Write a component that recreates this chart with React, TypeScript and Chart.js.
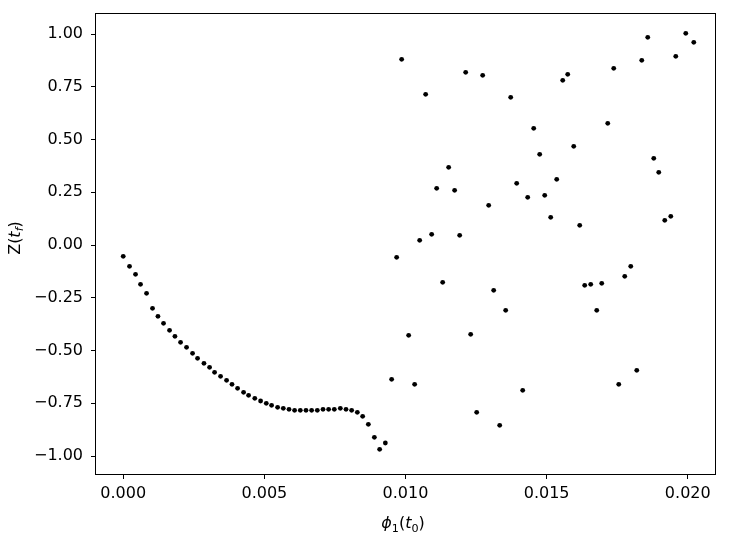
import React, { useEffect, useRef } from "react";
import { Chart, registerables } from "chart.js";

Chart.register(...registerables);

// phi_1(t_0) values
const phiValues = [
  0.0, 0.000223, 0.000436, 0.000613, 0.000826, 0.001038, 0.00123, 0.001428, 0.001641, 0.001832,
  0.002031, 0.002243, 0.002456, 0.002633, 0.00286, 0.003059, 0.003236, 0.003448, 0.003661, 0.003853,
  0.004051, 0.004264, 0.004441, 0.004661, 0.004866, 0.005068, 0.005256, 0.005469, 0.005671, 0.005873,
  0.006071, 0.006273, 0.006475, 0.006674, 0.006876, 0.007078, 0.007276, 0.007478, 0.007691, 0.007893,
  0.008092, 0.008294, 0.008482, 0.008684, 0.008897, 0.009084, 0.009286, 0.009509, 0.009686, 0.009864,
  0.010112, 0.010324, 0.010502, 0.010714, 0.010927, 0.011104, 0.011317, 0.011529, 0.01174, 0.011919,
  0.012132, 0.012309, 0.012522, 0.012734, 0.012947, 0.013124, 0.013337, 0.013549, 0.013727, 0.013939,
  0.014152, 0.014329, 0.014542, 0.014754, 0.014932, 0.015144, 0.015357, 0.01557, 0.015747, 0.01596,
  0.016172, 0.016349, 0.016562, 0.016775, 0.016952, 0.017165, 0.017377, 0.017555, 0.017767, 0.01798,
  0.018193, 0.01837, 0.018582, 0.018795, 0.018972, 0.019185, 0.019398, 0.019575, 0.019929, 0.020213,
];

// Z(t_f) values
const zValues = [
  -0.0533, -0.1007, -0.1386, -0.186, -0.2287, -0.2998, -0.3377, -0.3709, -0.4041, -0.4325,
  -0.4609, -0.4846, -0.5131, -0.5368, -0.5605, -0.5795, -0.6032, -0.6221, -0.6411, -0.66,
  -0.679, -0.698, -0.7122, -0.7264, -0.7392, -0.7501, -0.7596, -0.7691, -0.7738, -0.7785,
  -0.7833, -0.7833, -0.7833, -0.7833, -0.7833, -0.7785, -0.7785, -0.7785, -0.7738, -0.7785,
  -0.7833, -0.7928, -0.8117, -0.8496, -0.9113, -0.9682, -0.9383, -0.6363, -0.058, 0.8806,
  -0.4278, -0.66, 0.0226, 0.7146, 0.051, 0.2691, -0.1765, 0.3686, 0.2596, 0.0463,
  0.8189, -0.423, -0.7928, 0.8047, 0.1885, -0.2145, -0.8544, -0.3093, 0.7004, 0.2928,
  -0.6885, 0.2264, 0.5535, 0.4302, 0.2359, 0.1316, 0.3117, 0.781, 0.8094, 0.4681,
  0.0937, -0.1907, -0.186, -0.3093, -0.1813, 0.5772, 0.8379, -0.66, -0.1481, -0.1007,
  -0.5937, 0.8758, 0.9848, 0.4113, 0.3449, 0.1174, 0.1363, 0.8948, 1.0038, 0.9611,
];

const xTickValues = [0, 0.005, 0.01, 0.015, 0.02];
const yTickValues = [-1, -0.75, -0.5, -0.25, 0, 0.25, 0.5, 0.75, 1];

type Run = { text: string; italic?: boolean; sub?: boolean };
const xLabelRuns: Run[] = [
  { text: "\u03D5", italic: true },
  { text: "1", sub: true },
  { text: "(" },
  { text: "t", italic: true },
  { text: "0", sub: true },
  { text: ")" },
];
const yLabelRuns: Run[] = [
  { text: "Z" },
  { text: "(" },
  { text: "t", italic: true },
  { text: "f", italic: true, sub: true },
  { text: ")" },
];

const FONT = '"DejaVu Sans"';
const SIZE = 16;

function runFont(r: Run) {
  const size = r.sub ? SIZE * 0.7 : SIZE;
  return `${r.italic ? "italic " : ""}${size}px ${FONT}`;
}

function drawRuns(ctx: CanvasRenderingContext2D, runs: Run[], cx: number, baseline: number) {
  let total = 0;
  const widths = runs.map((r) => {
    ctx.font = runFont(r);
    const w = ctx.measureText(r.text).width;
    total += w;
    return w;
  });
  let x = cx - total / 2;
  ctx.textAlign = "left";
  ctx.textBaseline = "alphabetic";
  ctx.fillStyle = "#000";
  runs.forEach((r, i) => {
    ctx.font = runFont(r);
    ctx.fillText(r.text, x, baseline + (r.sub ? 3.5 : 0));
    x += widths[i];
  });
}

const framePlugin = {
  id: "mplFrame",
  afterDraw(chart: any) {
    const { ctx, chartArea: a } = chart;
    ctx.save();
    ctx.strokeStyle = "#000";
    ctx.lineWidth = 1;
    const l = Math.round(a.left) + 0.5;
    const t = Math.round(a.top) + 0.5;
    const r = Math.round(a.right) - 0.5;
    const b = Math.round(a.bottom) - 0.5;
    ctx.strokeRect(l, t, r - l, b - t);
    drawRuns(ctx, xLabelRuns, 403, 528);
    ctx.translate(19.5, 238);
    ctx.rotate(-Math.PI / 2);
    drawRuns(ctx, yLabelRuns, 0, 0);
    ctx.restore();
  },
};

function zeroPadding(scale: any) {
  scale.paddingTop = 0;
  scale.paddingBottom = 0;
  scale.paddingLeft = 0;
  scale.paddingRight = 0;
}

export default function App() {
  const canvasRef = useRef<HTMLCanvasElement | null>(null);

  useEffect(() => {
    const canvas = canvasRef.current;
    if (!canvas) return;
    const points = phiValues.map((x, i) => ({ x, y: zValues[i] }));
    const chart = new Chart(canvas, {
      type: "scatter",
      data: {
        datasets: [
          {
            data: points,
            backgroundColor: "#000",
            borderWidth: 0,
            pointRadius: 2.4,
            pointHoverRadius: 2.4,
          },
        ],
      },
      options: {
        animation: false,
        responsive: false,
        devicePixelRatio: 1,
        layout: { padding: { top: 13, right: 15, left: 0, bottom: 0 } },
        plugins: { legend: { display: false }, tooltip: { enabled: false } },
        scales: {
          x: {
            type: "linear",
            min: -0.001,
            max: 0.021,
            afterBuildTicks: (scale: any) => {
              scale.ticks = xTickValues.map((v) => ({ value: v }));
            },
            afterFit: (scale: any) => {
              scale.height = 60;
              zeroPadding(scale);
            },
            ticks: {
              callback: (v: any) => Number(v).toFixed(3),
              font: { family: FONT, size: SIZE },
              color: "#000",
              padding: 5,
              maxRotation: 0,
              autoSkip: false,
            },
            grid: { drawOnChartArea: false, drawTicks: true, tickLength: 4, color: "#000", lineWidth: 1 },
            border: { display: false },
          },
          y: {
            type: "linear",
            min: -1.09,
            max: 1.1,
            afterBuildTicks: (scale: any) => {
              scale.ticks = yTickValues.map((v) => ({ value: v }));
            },
            afterFit: (scale: any) => {
              scale.width = 95;
              zeroPadding(scale);
            },
            ticks: {
              callback: (v: any) => {
                const n = Number(v);
                const s = Math.abs(n).toFixed(2);
                return n < 0 ? "\u2212" + s : s;
              },
              font: { family: FONT, size: SIZE },
              color: "#000",
              padding: 8,
              autoSkip: false,
            },
            grid: { drawOnChartArea: false, drawTicks: true, tickLength: 4, color: "#000", lineWidth: 1 },
            border: { display: false },
          },
        },
      },
      plugins: [framePlugin],
    });
    return () => chart.destroy();
  }, []);

  return (
    <div style={{ position: "fixed", left: 0, top: 0, width: 731, height: 535, background: "#fff" }}>
      <canvas ref={canvasRef} width={731} height={535} style={{ display: "block" }} />
    </div>
  );
}
